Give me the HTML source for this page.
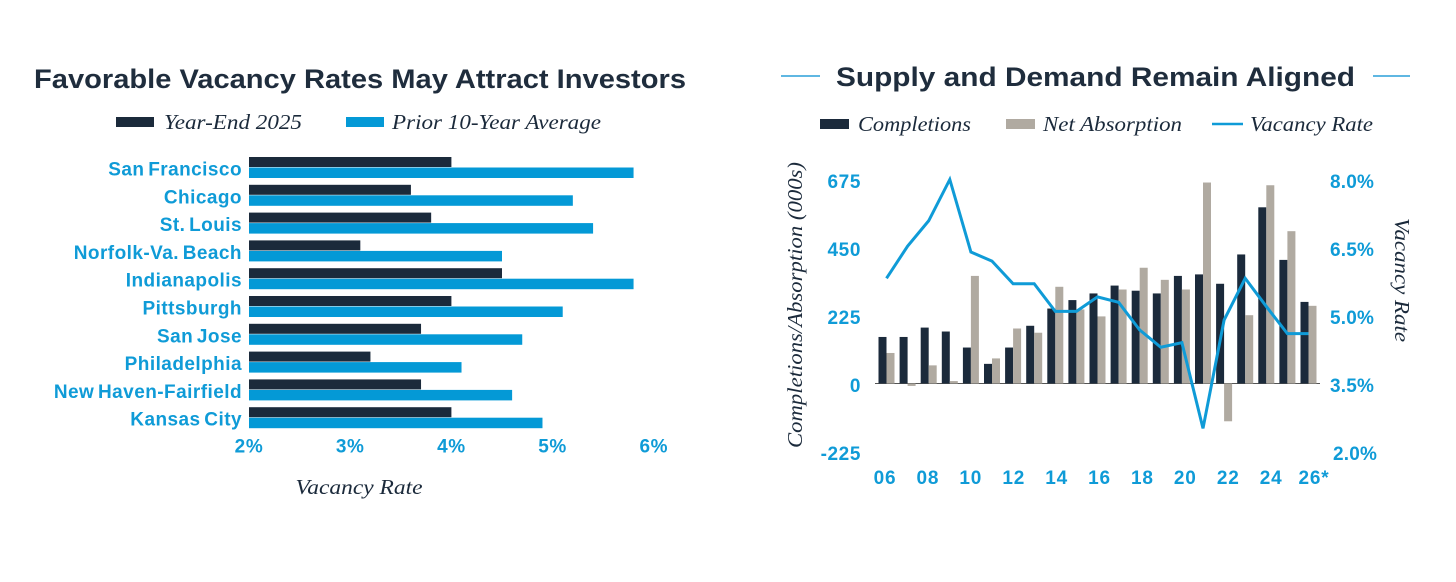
<!DOCTYPE html>
<html lang="en">
<head>
<meta charset="utf-8">
<title>Vacancy Rates and Supply and Demand</title>
<style>
  html, body { margin: 0; padding: 0; background: #fff; }
  body { width: 1456px; height: 582px; overflow: hidden; }
  svg { display: block; filter: blur(0.35px); }
  .sans { font-family: "Liberation Sans", sans-serif; font-weight: 700; }
  .serif { font-family: "Liberation Serif", serif; font-style: italic; fill: #1b2a3b; }
</style>
</head>
<body>
<svg id="chart" width="1456" height="582" viewBox="0 0 1456 582" xmlns="http://www.w3.org/2000/svg">
  <rect width="1456" height="582" fill="#fff"/>

  <text class="sans" x="34" y="88" font-size="27" fill="#1f2d3d" textLength="652" lengthAdjust="spacingAndGlyphs">Favorable Vacancy Rates May Attract Investors</text>
  <rect x="116" y="117" width="38" height="10" fill="#1b2a3b"/>
  <text class="serif" x="164" y="129" font-size="21" textLength="138" lengthAdjust="spacingAndGlyphs">Year-End 2025</text>
  <rect x="346" y="117" width="38" height="10" fill="#0499d6"/>
  <text class="serif" x="392" y="129" font-size="21" textLength="209" lengthAdjust="spacingAndGlyphs">Prior 10-Year Average</text>
  <g id="left-bars"></g>
  <g id="left-labels"></g>
  <g id="left-ticks"></g>
  <text class="serif" x="359" y="494" font-size="21" text-anchor="middle" textLength="127" lengthAdjust="spacingAndGlyphs">Vacancy Rate</text>

  <line x1="781" y1="76" x2="820" y2="76" stroke="#2a9fd8" stroke-width="1.5"/>
  <text class="sans" x="836" y="86" font-size="27" fill="#1f2d3d" textLength="519" lengthAdjust="spacingAndGlyphs">Supply and Demand Remain Aligned</text>
  <line x1="1373" y1="76" x2="1410" y2="76" stroke="#2a9fd8" stroke-width="1.5"/>
  <rect x="820" y="119" width="29" height="10" fill="#1b2a3b"/>
  <text class="serif" x="858" y="131" font-size="21" textLength="113" lengthAdjust="spacingAndGlyphs">Completions</text>
  <rect x="1006" y="119" width="29" height="10" fill="#b0aaa1"/>
  <text class="serif" x="1043" y="131" font-size="21" textLength="139" lengthAdjust="spacingAndGlyphs">Net Absorption</text>
  <line x1="1212" y1="124" x2="1243" y2="124" stroke="#0f9bd7" stroke-width="2.5"/>
  <text class="serif" x="1250" y="131" font-size="21" textLength="123" lengthAdjust="spacingAndGlyphs">Vacancy Rate</text>
  <g id="right-bars"></g>
  <g id="right-left-ticks"></g>
  <g id="right-right-ticks"></g>
  <g id="right-x-ticks"></g>
  <text class="serif" transform="translate(802,305) rotate(-90)" font-size="21" text-anchor="middle" textLength="286" lengthAdjust="spacingAndGlyphs">Completions/Absorption (000s)</text>
  <text class="serif" transform="translate(1395,280) rotate(90)" font-size="21" text-anchor="middle" textLength="124" lengthAdjust="spacingAndGlyphs">Vacancy Rate</text>
</svg>
<script>
const metros = ["San Francisco", "Chicago", "St. Louis", "Norfolk-Va. Beach", "Indianapolis", "Pittsburgh", "San Jose", "Philadelphia", "New Haven-Fairfield", "Kansas City"];
const yearEnd2025 = [4.0, 3.6, 3.8, 3.1, 4.5, 4.0, 3.7, 3.2, 3.7, 4.0];
const priorAverage = [5.8, 5.2, 5.4, 4.5, 5.8, 5.1, 4.7, 4.1, 4.6, 4.9];
const rateTicks = [2, 3, 4, 5, 6];

const years = ["06", "07", "08", "09", "10", "11", "12", "13", "14", "15", "16", "17", "18", "19", "20", "21", "22", "23", "24", "25", "26*"];
const completions = [154, 154, 185, 172, 119, 65, 119, 191, 248, 276, 298, 324, 307, 298, 356, 361, 330, 427, 583, 409, 270];
const netAbsorption = [101, -8, 60, 8, 356, 83, 182, 168, 320, 245, 222, 311, 383, 343, 311, 665, -125, 226, 656, 504, 257];
const vacancyRate = [5.82, 6.53, 7.09, 8.0, 6.4, 6.2, 5.7, 5.7, 5.09, 5.09, 5.41, 5.29, 4.68, 4.3, 4.4, 2.51, 4.9, 5.82, 5.2, 4.6, 4.6];
const unitTicks = [675, 450, 225, 0, -225];
const vacancyTicks = [8.0, 6.5, 5.0, 3.5, 2.0];
const yearTicks = ["06", "08", "10", "12", "14", "16", "18", "20", "22", "24", "26*"];

const NS = "http://www.w3.org/2000/svg";
const DARK = "#1b2a3b", BLUE = "#0499d6", TICK = "#0f9bd7", GREY = "#b0aaa1";

function make(tag, parent, props) {
  const el = document.createElementNS(NS, tag);
  for (const k in props) el.setAttribute(k, props[k]);
  parent.appendChild(el);
  return el;
}

// Left chart axes
const rateX = v => 249 + (v - 2) * 101.2;
const metroY = i => 157 + i * 27.8;

const leftBars = document.getElementById("left-bars");
const leftLabels = document.getElementById("left-labels");
metros.forEach((m, i) => {
  const a = make("rect", leftBars, { x: rateX(2), y: metroY(i), width: rateX(yearEnd2025[i]) - rateX(2), height: 10, fill: DARK });
  
  
  const b = make("rect", leftBars, { x: rateX(2), y: metroY(i) + 10.5, width: rateX(priorAverage[i]) - rateX(2), height: 10.5, fill: BLUE });
  
  
  const t = make("text", leftLabels, { class: "sans", x: 242, y: metroY(i) + 18.5, "text-anchor": "end", "font-size": 19, "letter-spacing": 0.45, "word-spacing": -2, fill: TICK });
  
  
  t.textContent = m;
});

const leftTicks = document.getElementById("left-ticks");
rateTicks.forEach(v => {
  const t = make("text", leftTicks, { class: "sans", x: rateX(v), y: 452.5, "text-anchor": "middle", "font-size": 19, "letter-spacing": 0.6, fill: TICK });
  
  
  t.textContent = v + "%";
});

// Right chart axes
const groupX = i => 886.5 + i * 21.1;
const unitY = v => 383.5 - v * (68 / 225);
const vacY = v => 383.5 - (v - 3.5) * (68 / 1.5);
const BARW = 8;

const rightBars = document.getElementById("right-bars");
const base = make("line", rightBars, { x1: 875, x2: 1320, y1: unitY(0), y2: unitY(0), stroke: "#555", "stroke-width": 1 });


years.forEach((y, i) => {
  const c = completions[i], n = netAbsorption[i];
  const d = make("rect", rightBars, { x: groupX(i) - BARW, y: Math.min(unitY(c), unitY(0)), width: BARW, height: Math.abs(unitY(c) - unitY(0)), fill: DARK });
  
  
  const g = make("rect", rightBars, { x: groupX(i), y: Math.min(unitY(n), unitY(0)), width: BARW, height: Math.abs(unitY(n) - unitY(0)), fill: GREY });
  
  
});
const line = make("polyline", rightBars, {
  points: vacancyRate.map((v, i) => groupX(i) + "," + vacY(v)).join(" "),
  fill: "none", stroke: "#0f9bd7", "stroke-width": 3, "stroke-linejoin": "miter"
});



const rlTicks = document.getElementById("right-left-ticks");
unitTicks.forEach(v => {
  const t = make("text", rlTicks, { class: "sans", x: 861, y: unitY(v) + 8.5, "text-anchor": "end", "font-size": 19, "letter-spacing": 0.6, fill: TICK });
  
  
  t.textContent = v;
});
const rrTicks = document.getElementById("right-right-ticks");
vacancyTicks.forEach(v => {
  const t = make("text", rrTicks, { class: "sans", x: 1330 + (v === 2 ? 3 : 0), y: vacY(v) + 8.5, "font-size": 19, "letter-spacing": 0.2, fill: TICK });
  
  
  t.textContent = v.toFixed(1) + "%";
});
const rxTicks = document.getElementById("right-x-ticks");
yearTicks.forEach((lab, i) => {
  const t = make("text", rxTicks, { class: "sans", x: 885 + i * 42.9, y: 484, "text-anchor": "middle", "font-size": 19, "letter-spacing": 0.8, fill: TICK });
  
  
  t.textContent = lab;
});
</script>
</body>
</html>
